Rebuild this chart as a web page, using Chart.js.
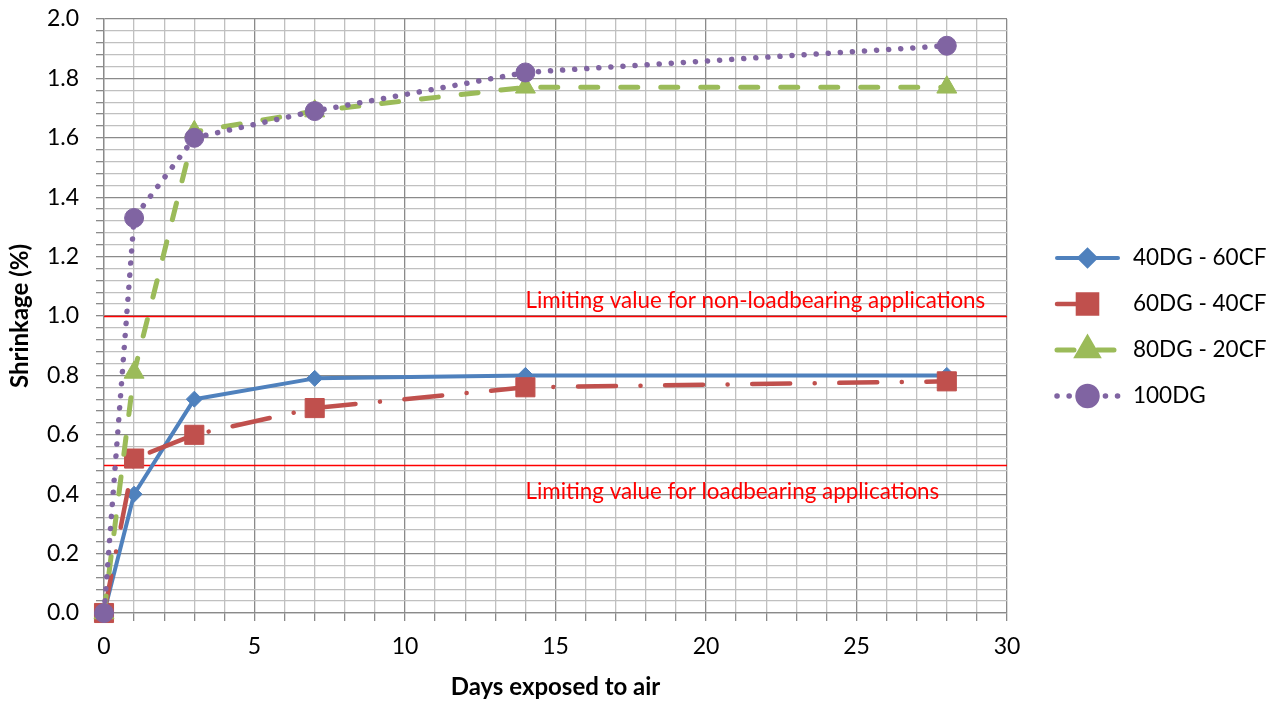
<!DOCTYPE html>
<html>
<head>
<meta charset="utf-8">
<script src="https://cdn.jsdelivr.net/npm/chart.js@4/dist/chart.umd.min.js"></script>
<style>
    html, body { margin: 0; padding: 0; background: #fff; }
</style>
</head>
<body>
<canvas id="shrinkageChart" width="1283" height="704"></canvas>
<script>
// Veriler
const days = [0, 1, 3, 7, 14, 28];
const seriesNames = ['40DG - 60CF', '60DG - 40CF', '80DG - 20CF', '100DG'];
const dg40 = [0, 0.40, 0.72, 0.79, 0.80, 0.80];
const dg60 = [0, 0.52, 0.60, 0.69, 0.76, 0.78];
const dg80 = [0, 0.81, 1.62, 1.69, 1.77, 1.77];
const dg100 = [0, 1.33, 1.60, 1.69, 1.82, 1.91];
const limitValues = [1.0, 0.5];
const limitLabels = ['Limiting value for non-loadbearing applications', 'Limiting value for loadbearing applications'];

const FONT = 'Lato, "Noto Sans", sans-serif';
const MAJOR_GRID = '#8a8a8a';
const MINOR_GRID = '#c0c0c0';

function toPoints(values) {
    return days.map((d, i) => ({ x: d, y: values[i] }));
}

function makeSeries(label, values, color, style) {
    return Object.assign({
        label: label,
        data: toPoints(values),
        borderColor: color,
        backgroundColor: color,
        pointBackgroundColor: color,
        pointBorderColor: color,
        pointBorderWidth: 1,
        borderCapStyle: 'round',
        borderJoinStyle: 'round',
        tension: 0,
        clip: false,
        fill: false
    }, style);
}

const datasets = [
    makeSeries(seriesNames[0], dg40, '#4F81BD', { borderWidth: 4, borderDash: [], pointStyle: 'rectRot', pointRadius: 8, order: 3 }),
    makeSeries(seriesNames[1], dg60, '#C0504D', { borderWidth: 4.5, borderDash: [38, 24.5, 0.1, 24.5], pointStyle: 'rect', pointRadius: 13.5, order: 2 }),
    makeSeries(seriesNames[2], dg80, '#9BBB59', { borderWidth: 5, borderDash: [17, 23], pointStyle: 'triangle', pointRadius: 11.5, order: 1 }),
    makeSeries(seriesNames[3], dg100, '#8064A2', { borderWidth: 5.5, borderDash: [0.1, 12], pointStyle: 'circle', pointRadius: 9.5, order: 0 })
];

// Sınır çizgileri ve etiketleri
const limitLinesPlugin = {
    id: 'limitLines',
    beforeDatasetsDraw(chart) {
        const { ctx, chartArea, scales } = chart;
        ctx.save();
        ctx.strokeStyle = '#FF0000';
        ctx.lineWidth = 1.5;
        limitValues.forEach(v => {
            const y = Math.round(scales.y.getPixelForValue(v)) + 0.5;
            ctx.beginPath();
            ctx.moveTo(chartArea.left, y);
            ctx.lineTo(chartArea.right, y);
            ctx.stroke();
        });
        ctx.fillStyle = '#FF0000';
        ctx.font = '22.4px ' + FONT;
        ctx.textAlign = 'left';
        const x = scales.x.getPixelForValue(14);
        ctx.textBaseline = 'alphabetic';
        ctx.fillText(limitLabels[0], x, scales.y.getPixelForValue(limitValues[0]) - 8);
        ctx.fillText(limitLabels[1], x, scales.y.getPixelForValue(limitValues[1]) + 34);
        ctx.restore();
    }
};

// Sağdaki lejant
const sideLegendPlugin = {
    id: 'sideLegend',
    afterDraw(chart) {
        const { ctx } = chart;
        const lineStart = 1057, lineEnd = 1118, textX = 1133;
        const firstRow = 258, rowGap = 46;
        ctx.save();
        datasets.forEach((ds, i) => {
            const y = firstRow + i * rowGap;
            ctx.strokeStyle = ds.borderColor;
            ctx.lineWidth = ds.borderWidth;
            ctx.lineCap = 'round';
            ctx.setLineDash(ds.borderDash);
            ctx.beginPath();
            ctx.moveTo(lineStart, y);
            ctx.lineTo(lineEnd, y);
            ctx.stroke();
            ctx.setLineDash([]);
            Chart.helpers.drawPoint(ctx, {
                pointStyle: ds.pointStyle,
                radius: ds.pointRadius,
                borderWidth: 1,
                rotation: 0
            }, (lineStart + lineEnd) / 2, y);
            ctx.fillStyle = ds.borderColor;
            ctx.fill();
            ctx.fillStyle = '#000';
            ctx.font = '22.5px ' + FONT;
            ctx.textAlign = 'left';
            ctx.textBaseline = 'middle';
            ctx.fillText(ds.label, textX, y);
        });
        ctx.restore();
    }
};

const chart = new Chart(document.getElementById('shrinkageChart'), {
    type: 'line',
    data: { datasets: datasets },
    options: {
        responsive: false,
        animation: false,
        layout: { padding: { top: 19, right: 276, left: 0, bottom: 0 } },
        plugins: {
            legend: { display: false },
            tooltip: { enabled: false }
        },
        scales: {
            x: {
                type: 'linear',
                min: 0,
                max: 30,
                afterFit(scale) {
                    scale.height = 91;
                    scale.paddingLeft = 0;
                    scale.paddingRight = 0;
                },
                ticks: {
                    stepSize: 1,
                    autoSkip: false,
                    maxRotation: 0,
                    padding: 12,
                    color: '#000',
                    font: { family: FONT, size: 23 },
                    callback: v => (v % 5 === 0 ? String(v) : '')
                },
                grid: {
                    color: c => (c.tick && c.tick.value % 5 === 0 ? MAJOR_GRID : MINOR_GRID),
                    lineWidth: 1.3,
                    tickLength: 8,
                    tickColor: MAJOR_GRID
                },
                border: { color: MAJOR_GRID, width: 1.3 },
                title: {
                    display: true,
                    text: 'Days exposed to air',
                    color: '#000',
                    font: { family: FONT, size: 24, weight: 'bold' },
                    padding: { top: 0, bottom: 2 }
                }
            },
            y: {
                min: 0,
                max: 2,
                afterFit(scale) {
                    scale.width = 104;
                    scale.paddingTop = 0;
                    scale.paddingBottom = 0;
                },
                ticks: {
                    stepSize: 0.04,
                    autoSkip: false,
                    padding: 17,
                    color: '#000',
                    font: { family: FONT, size: 23 },
                    callback: v => (Math.round(v * 100) % 20 === 0 ? v.toFixed(1) : '')
                },
                grid: {
                    color: c => (c.tick && Math.round(c.tick.value * 100) % 20 === 0 ? MAJOR_GRID : MINOR_GRID),
                    lineWidth: 1.3,
                    tickLength: 8,
                    tickColor: MAJOR_GRID
                },
                border: { color: MAJOR_GRID, width: 1.3 },
                title: {
                    display: true,
                    text: 'Shrinkage (%)',
                    color: '#000',
                    font: { family: FONT, size: 24, weight: 'bold' },
                    padding: { top: 6, bottom: 0 }
                }
            }
        }
    },
    plugins: [limitLinesPlugin, sideLegendPlugin]
});
</script>
</body>
</html>
